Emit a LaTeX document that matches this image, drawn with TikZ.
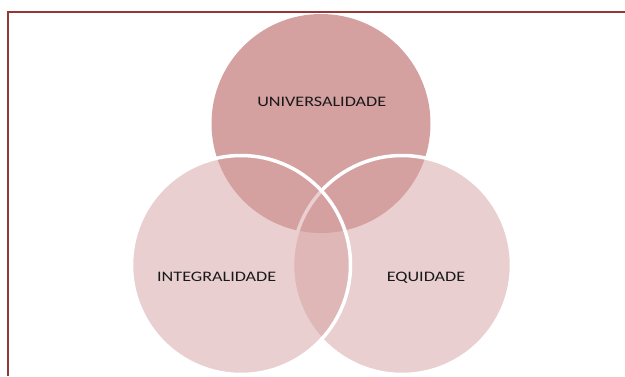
\documentclass[tikz,border=0pt]{standalone}
\usepackage{fontspec}
\setmainfont{Carlito}
\usepackage{tikz}
\usetikzlibrary{arrows.meta}
\definecolor{vennrose}{RGB}{212,160,160}
\definecolor{framered}{RGB}{149,55,53}
\newcommand{\widetext}[1]{\scalebox{1.25}[1]{#1}}

\begin{document}
\begin{tikzpicture}[x=1pt, y=-1pt,
    disc/.style={circle, inner sep=0pt, minimum size=219pt, fill=vennrose},
    lbl/.style={anchor=base, inner sep=0pt, font=\fontsize{14.5}{16}\selectfont, text=black!90}]
\useasboundingbox (0,0) rectangle (625,376);
%\draw[help lines] (0,0) grid[step=50] (625,376);
\begin{scope}
    \clip (0,0) rectangle (625,376);
    \node[disc] (univ) at (321,123.5) {};
    \node[disc, fill opacity=0.5, draw=white, line width=3.5pt] (equi) at (402,265) {};
    \node[disc, fill opacity=0.5, draw=white, line width=3.5pt] (integ) at (241,265) {};
\end{scope}

    \node[lbl] (tuniv) at (321.7,106.2) {\widetext{UNIVERSALIDADE}};
    \node[lbl] (tinteg) at (216.7,281.6) {\widetext{INTEGRALIDADE}};
    \node[lbl] (tequi) at (426,281.6) {\widetext{EQUIDADE}};

    \coordinate (fb) at (8,376);
    \coordinate (fc) at (8,12);
    \coordinate (fr) at (625,12);
    \draw[framered, line width=2pt] (fb) -- (fc) -- (fr);
\end{tikzpicture}
\end{document}
